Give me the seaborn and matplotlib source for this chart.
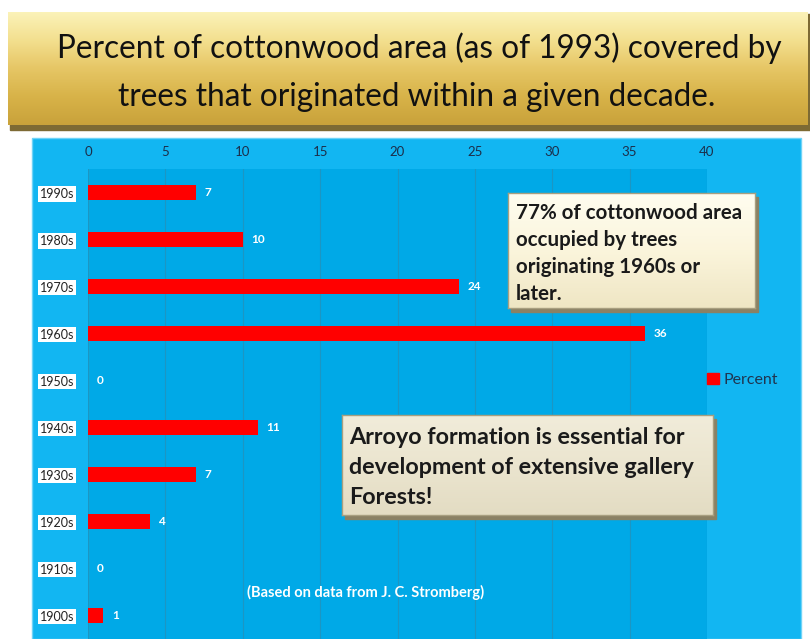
import numpy as np
import pandas as pd
import seaborn as sns
import matplotlib.pyplot as plt
from matplotlib.patches import Rectangle, Patch
from matplotlib.colors import LinearSegmentedColormap

# data
decades = ["1990s", "1980s", "1970s", "1960s", "1950s", "1940s", "1930s", "1920s", "1910s", "1900s"]
percent = [7, 10, 24, 36, 0, 11, 7, 4, 0, 1]
x_ticks = [0, 5, 10, 15, 20, 25, 30, 35, 40]

title_lines = ["Percent of cottonwood area (as of 1993) covered by",
               "trees that originated within a given decade."]
note1 = ["77% of cottonwood area", "occupied by trees", "originating 1960s or", "later."]
note2 = ["Arroyo formation is essential for", "development of extensive gallery", "Forests!"]
source = "(Based on data from J. C. Stromberg)"

df = pd.DataFrame({"decade": decades, "percent": percent})

sns.set_style("white")
plt.rcParams["font.family"] = ["Lato", "DejaVu Sans"]

W, H = 810, 639
def fx(px):
    return px / W
def fy(py):
    return 1 - py / H

fig = plt.figure(figsize=(8.1, 6.39), dpi=100)
fig.patch.set_facecolor("white")

# gold title banner
shadow = Rectangle((fx(10), fy(130)), fx(810) - fx(10), fy(14) - fy(130),
                   transform=fig.transFigure, color="#7d6a34", zorder=-2)
fig.patches.append(shadow)
tax = fig.add_axes([fx(8), fy(125), fx(808) - fx(8), fy(12) - fy(125)], zorder=0)
gold = LinearSegmentedColormap.from_list("gold", ["#fbf2b8", "#f3df8e", "#e6c665", "#d8b349", "#c9a23b"])
tax.imshow(np.linspace(0, 1, 100).reshape(-1, 1), aspect="auto", cmap=gold,
           extent=[0, 1, 0, 1], origin="upper")
tax.set_axis_off()
fig.text(fx(419), fy(48), title_lines[0], ha="center", va="center", fontsize=22.7, color="#111111")
fig.text(fx(417), fy(97), title_lines[1], ha="center", va="center", fontsize=22.7, color="#111111")

# blue chart background
bg = Rectangle((fx(32), 0), fx(801) - fx(32), fy(138), transform=fig.transFigure,
               facecolor="#12b6f2", edgecolor="#6fd3f7", lw=1, zorder=-1)
fig.patches.append(bg)

ax = fig.add_axes([fx(88), 0, fx(707) - fx(88), fy(169.5)], zorder=1)
ax.set_facecolor("#00a9e7")
sns.barplot(data=df, y="decade", x="percent", color="#ff0000", saturation=1,
            width=0.32, edgecolor="none", linewidth=0, ax=ax)
ax.bar_label(ax.containers[0], padding=6, color="white", fontweight="bold", fontsize=8.5)
ax.set_xlim(0, 40)
ax.set_xticks(x_ticks)
ax.xaxis.tick_top()
ax.tick_params(axis="x", length=0, pad=8, labelsize=9.5, labelcolor="#1c2e4a")
ax.tick_params(axis="y", length=0, pad=10, labelsize=9, labelcolor="#222222")
for lab in ax.get_yticklabels():
    lab.set_bbox(dict(facecolor="white", edgecolor="none", pad=1.2))
ax.set_xlabel("")
ax.set_ylabel("")
ax.grid(axis="x", color="#1c96c3", lw=0.8)
ax.set_axisbelow(True)
for s in ax.spines.values():
    s.set_visible(False)
ax.axvline(0, color="#3aa9b8", lw=1, zorder=0)

ax.legend(handles=[Patch(color="#ff0000", label="Percent")], loc="center left",
          bbox_to_anchor=(fx(693), fy(380)), bbox_transform=fig.transFigure,
          frameon=False, handlelength=0.7, handleheight=0.7, handletextpad=0.3,
          fontsize=11.5, labelcolor="#1f3550")

fig.text(fx(247), fy(592), source, ha="left", va="center", fontsize=10.5,
         fontweight="bold", color="white", zorder=3)

# note boxes
def note_box(x0, y0, x1, y1, colors, lines, tx, ty0, dy, size):
    sh = Rectangle((fx(x0 + 3), fy(y1 + 4)), fx(x1) - fx(x0), fy(y0) - fy(y1),
                   transform=fig.transFigure, color="#8a8164", zorder=1.5)
    fig.patches.append(sh)
    nax = fig.add_axes([fx(x0), fy(y1), fx(x1) - fx(x0), fy(y0) - fy(y1)], zorder=2)
    cm = LinearSegmentedColormap.from_list("note", colors)
    nax.imshow(np.linspace(0, 1, 100).reshape(-1, 1), aspect="auto", cmap=cm,
               extent=[0, 1, 0, 1], origin="upper")
    nax.set_xticks([])
    nax.set_yticks([])
    for s in nax.spines.values():
        s.set_color("#a89f80")
        s.set_linewidth(1)
    for i, line in enumerate(lines):
        fig.text(fx(tx), fy(ty0 + i * dy), line, ha="left", va="center", fontsize=size,
                 fontweight="bold", color="#1a1a1a", zorder=3)

note_box(508, 193, 755, 308, ["#fffdf0", "#fbf5dc", "#efe6c4"], note1, 516, 213, 27, 14.8)
note_box(342, 415, 713, 515, ["#f1ecda", "#ebe5cf", "#e3dcc3"], note2, 349, 437, 30, 16.8)

fig.savefig("out.png", dpi=100)
